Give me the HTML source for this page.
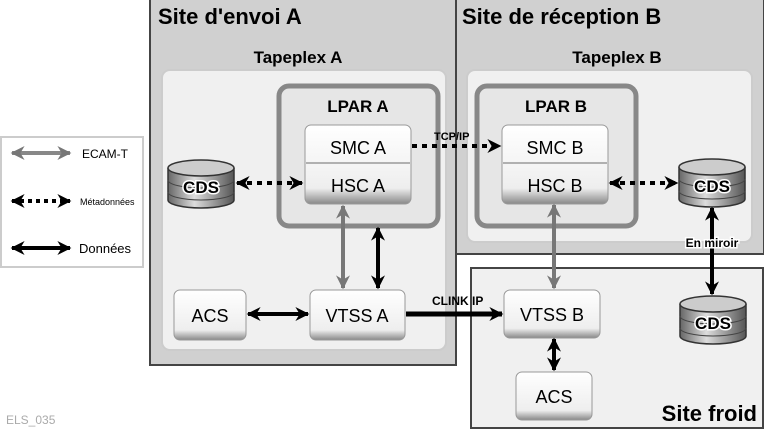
<!DOCTYPE html>
<html><head><meta charset="utf-8"><style>
body{margin:0;background:#fff;}
svg{display:block;font-family:"Liberation Sans",sans-serif;}
</style></head><body>
<svg width="764" height="433" viewBox="0 0 764 433" xmlns="http://www.w3.org/2000/svg">
<defs>
<linearGradient id="box" x1="0" y1="0" x2="0" y2="1"><stop offset="0" stop-color="#ffffff"/><stop offset="0.8" stop-color="#eeeeee"/><stop offset="1" stop-color="#888"/></linearGradient>
<linearGradient id="cyl" x1="0" y1="0" x2="1" y2="0"><stop offset="0" stop-color="#666"/><stop offset="0.4" stop-color="#ddd"/><stop offset="1" stop-color="#555"/></linearGradient>
<marker id="abk" viewBox="0 0 10 10" markerWidth="16" markerHeight="14" refX="9" refY="5" orient="auto-start-reverse" markerUnits="userSpaceOnUse"><path d="M0,0L10,5L0,10L3,5z" fill="#000"/></marker>
<marker id="agr" viewBox="0 0 10 10" markerWidth="16" markerHeight="14" refX="9" refY="5" orient="auto-start-reverse" markerUnits="userSpaceOnUse"><path d="M0,0L10,5L0,10L3,5z" fill="#777"/></marker>
<g id="cds">
<path d="M0,8 L0,40 A33,8 0 0 0 66,40 L66,8" fill="url(#cyl)" stroke="#333" stroke-width="1.5"/>
<ellipse cx="33" cy="8" rx="33" ry="8" fill="#ccc" stroke="#333" stroke-width="1.5"/>
<path d="M0,20 A33,8 0 0 0 66,20 M0,32 A33,8 0 0 0 66,32" fill="none" stroke="#444"/>
<text x="33" y="33" text-anchor="middle" font-size="17" font-weight="bold" fill="#000" stroke="#fff" stroke-width="3" paint-order="stroke">CDS</text>
</g>
</defs>
<rect x="1" y="137" width="142" height="130" fill="#fff" stroke="#ccc" stroke-width="2"/>
<line x1="12" y1="153" x2="70" y2="153" stroke="#888" stroke-width="4" marker-start="url(#agr)" marker-end="url(#agr)"/>
<text x="82" y="158" font-size="12">ECAM-T</text>
<line x1="12" y1="201" x2="70" y2="201" stroke="#000" stroke-width="4" stroke-dasharray="4,4" marker-start="url(#abk)" marker-end="url(#abk)"/>
<text x="80" y="205" font-size="9">Métadonnées</text>
<line x1="12" y1="248" x2="70" y2="248" stroke="#000" stroke-width="4" marker-start="url(#abk)" marker-end="url(#abk)"/>
<text x="79" y="253" font-size="13">Données</text>
<text x="6" y="424" font-size="12" fill="#aaa">ELS_035</text>
<rect x="150" y="-2" width="306" height="367" fill="#d0d0d0" stroke="#444" stroke-width="2"/>
<text x="158" y="24" font-size="22" font-weight="bold">Site d'envoi A</text>
<text x="298" y="63" font-size="17" font-weight="bold" text-anchor="middle">Tapeplex A</text>
<rect x="162" y="70" width="284" height="280" rx="8" fill="#f0f0f0" stroke="#ccc" stroke-width="2"/>
<rect x="456" y="-2" width="308" height="256" fill="#d0d0d0" stroke="#444" stroke-width="2"/>
<text x="462" y="24" font-size="22" font-weight="bold">Site de réception B</text>
<text x="617" y="63" font-size="17" font-weight="bold" text-anchor="middle">Tapeplex B</text>
<rect x="467" y="70" width="285" height="172" rx="8" fill="#f0f0f0" stroke="#ccc" stroke-width="2"/>
<rect x="471" y="268" width="292" height="160" fill="#f0f0f0" stroke="#444" stroke-width="2"/>
<text x="757" y="421" font-size="22" font-weight="bold" text-anchor="end">Site froid</text>
<rect x="279" y="86" width="159" height="140" rx="10" fill="#e6e6e6" stroke="#888" stroke-width="5"/>
<text x="358" y="112" font-size="17" font-weight="bold" text-anchor="middle">LPAR A</text>
<rect x="477" y="86" width="159" height="140" rx="10" fill="#e6e6e6" stroke="#888" stroke-width="5"/>
<text x="556" y="112" font-size="17" font-weight="bold" text-anchor="middle">LPAR B</text>
<g font-size="18" text-anchor="middle">
<rect x="305" y="125" width="106" height="79" rx="6" fill="url(#box)" stroke="#999"/>
<line x1="306" y1="163" x2="410" y2="163" stroke="#999" stroke-width="1.5"/>
<text x="358" y="154">SMC A</text><text x="358" y="192">HSC A</text>
<rect x="502" y="125" width="106" height="79" rx="6" fill="url(#box)" stroke="#999"/>
<line x1="503" y1="163" x2="607" y2="163" stroke="#999" stroke-width="1.5"/>
<text x="555" y="154">SMC B</text><text x="555" y="192">HSC B</text>
<rect x="174" y="290" width="72" height="50" rx="6" fill="url(#box)" stroke="#999"/><text x="210" y="322">ACS</text>
<rect x="310" y="290" width="95" height="50" rx="6" fill="url(#box)" stroke="#999"/><text x="357" y="322">VTSS A</text>
<rect x="504" y="290" width="96" height="48" rx="6" fill="url(#box)" stroke="#999"/><text x="552" y="321">VTSS B</text>
<rect x="516" y="372" width="76" height="48" rx="6" fill="url(#box)" stroke="#999"/><text x="554" y="403">ACS</text>
</g>
<use href="#cds" x="168" y="160"/>
<use href="#cds" x="679" y="159"/>
<use href="#cds" x="680" y="296"/>
<line x1="237" y1="183" x2="302" y2="183" stroke="#000" stroke-width="4" stroke-dasharray="5,5" marker-start="url(#abk)" marker-end="url(#abk)"/>
<line x1="412" y1="146" x2="500" y2="146" stroke="#000" stroke-width="4" stroke-dasharray="5,5" marker-end="url(#abk)"/>
<text x="434" y="140" font-size="11" font-weight="bold">TCP/IP</text>
<line x1="610" y1="183" x2="677" y2="183" stroke="#000" stroke-width="4" stroke-dasharray="5,5" marker-start="url(#abk)" marker-end="url(#abk)"/>
<line x1="343" y1="206" x2="343" y2="288" stroke="#777" stroke-width="4" marker-start="url(#agr)" marker-end="url(#agr)"/>
<line x1="378" y1="228" x2="378" y2="288" stroke="#000" stroke-width="4" marker-start="url(#abk)" marker-end="url(#abk)"/>
<line x1="554" y1="205" x2="554" y2="288" stroke="#777" stroke-width="4" marker-start="url(#agr)" marker-end="url(#agr)"/>
<line x1="712" y1="208" x2="712" y2="294" stroke="#000" stroke-width="4" marker-start="url(#abk)" marker-end="url(#abk)"/>
<text x="712" y="247" font-size="12" font-weight="bold" text-anchor="middle" stroke="#fff" stroke-width="3" paint-order="stroke">En miroir</text>
<line x1="248" y1="314" x2="308" y2="314" stroke="#000" stroke-width="4" marker-start="url(#abk)" marker-end="url(#abk)"/>
<line x1="406" y1="314" x2="502" y2="314" stroke="#000" stroke-width="5" marker-end="url(#abk)"/>
<text x="432" y="305" font-size="12" font-weight="bold">CLINK IP</text>
<line x1="554" y1="339" x2="554" y2="370" stroke="#000" stroke-width="4" marker-start="url(#abk)" marker-end="url(#abk)"/>
</svg>
</body></html>
